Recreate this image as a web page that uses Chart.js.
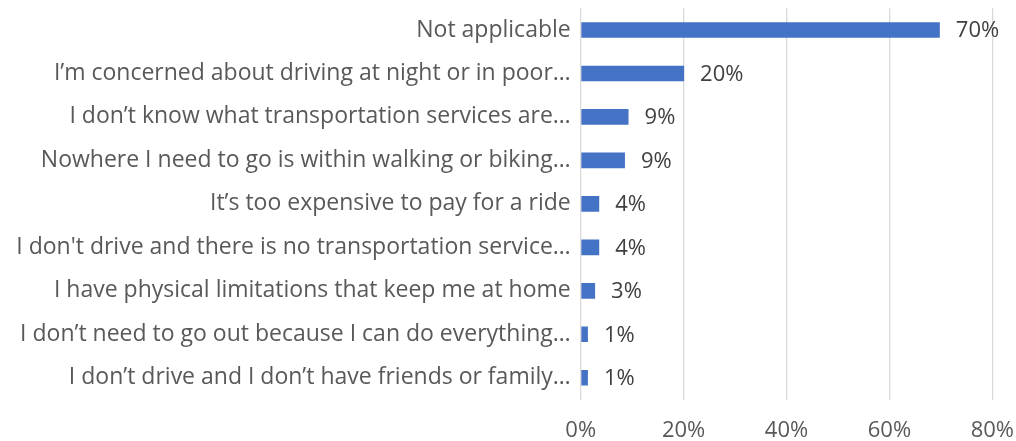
<!DOCTYPE html>
<html>
<head>
<meta charset="utf-8">
<script src="https://cdn.jsdelivr.net/npm/chart.js@4"></script>
<style>
  html, body { margin: 0; padding: 0; background: #fff; }
  .wrap { width: 1016px; height: 441px; }
</style>
</head>
<body>
<div class="wrap"><canvas id="chart" width="1016" height="441"></canvas></div>
<script>
const categories = [
  'Not applicable',
  'I’m concerned about driving at night or in poor…',
  'I don’t know what transportation services are…',
  'Nowhere I need to go is within walking or biking…',
  'It’s too expensive to pay for a ride',
  "I don't drive and there is no transportation service…",
  'I have physical limitations that keep me at home',
  'I don’t need to go out because I can do everything…',
  'I don’t drive and I don’t have friends or family…'
];
const shares = [69.8, 20.1, 9.3, 8.6, 3.6, 3.6, 2.8, 1.4, 1.4];
const xTicks = [0, 20, 40, 60, 80];

const FONT = '"Open Sans", Lato, sans-serif';

// percent labels to the right of each bar
const barLabels = {
  id: 'barLabels',
  afterDatasetsDraw(chart) {
    const ctx = chart.ctx;
    const meta = chart.getDatasetMeta(0);
    ctx.save();
    ctx.font = '22px ' + FONT;
    ctx.fillStyle = '#404040';
    ctx.textAlign = 'left';
    ctx.textBaseline = 'middle';
    meta.data.forEach((bar, i) => {
      ctx.fillText(Math.round(shares[i]) + '%', bar.x + 16, bar.y + 1);
    });
    ctx.restore();
  }
};

new Chart(document.getElementById('chart'), {
  type: 'bar',
  data: {
    labels: categories,
    datasets: [{
      data: shares,
      backgroundColor: '#4472C4',
      borderWidth: 0,
      categoryPercentage: 1,
      barPercentage: 0.36
    }]
  },
  options: {
    indexAxis: 'y',
    responsive: false,
    animation: false,
    layout: { padding: { top: 8.25, right: 23.7, left: 0, bottom: 0 } },
    plugins: { legend: { display: false }, tooltip: { enabled: false } },
    scales: {
      x: {
        min: 0,
        max: 80,
        afterBuildTicks(scale) { scale.ticks = xTicks.map(v => ({ value: v })); },
        afterFit(scale) {
          scale.height = 41.5;
          scale.paddingLeft = 0;
          scale.paddingRight = 0;
        },
        grid: { color: '#d9d9d9', lineWidth: 1.3, drawTicks: false },
        border: { display: false },
        ticks: {
          padding: 18,
          color: '#595959',
          font: { family: FONT, size: 22 },
          callback: v => v + '%'
        }
      },
      y: {
        afterFit(scale) {
          scale.width = 580.7;
          scale.paddingTop = 0;
          scale.paddingBottom = 0;
        },
        grid: { display: false, drawTicks: false },
        border: { display: false },
        ticks: {
          padding: 10,
          color: '#595959',
          font: { family: FONT, size: 23 },
          autoSkip: false
        }
      }
    }
  },
  plugins: [barLabels]
});
</script>
</body>
</html>
